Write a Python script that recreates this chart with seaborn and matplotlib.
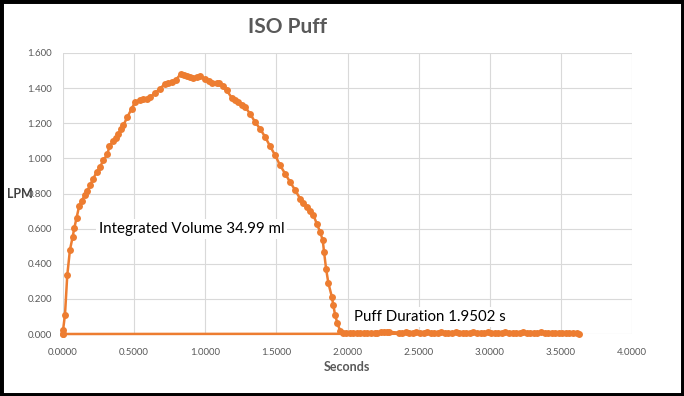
import pandas as pd
import matplotlib
matplotlib.use('Agg')
import matplotlib.pyplot as plt
import seaborn as sns
from matplotlib.patches import Rectangle

# 读出的数据 (秒, LPM)
rise_t = [0.000, 0.000, 0.014, 0.030, 0.049, 0.068, 0.080, 0.096, 0.113, 0.131,
          0.155, 0.171, 0.190, 0.213, 0.237, 0.260, 0.284, 0.312, 0.326, 0.354,
          0.372, 0.389, 0.406, 0.424, 0.452, 0.483, 0.506, 0.541, 0.565, 0.588,
          0.612, 0.647, 0.682, 0.717, 0.740, 0.764, 0.795, 0.828, 0.850, 0.870,
          0.895, 0.917, 0.940, 0.963, 0.999, 1.025, 1.046, 1.081, 1.100, 1.125,
          1.151, 1.186, 1.210, 1.233, 1.258, 1.280, 1.315, 1.350, 1.385, 1.421,
          1.456, 1.491, 1.526, 1.561, 1.596, 1.632, 1.667, 1.690, 1.714, 1.737,
          1.760, 1.784, 1.807, 1.826, 1.835, 1.850, 1.866, 1.890, 1.900, 1.913,
          1.929, 1.948, 1.970]
rise_lpm = [0.000, 0.020, 0.110, 0.335, 0.480, 0.553, 0.606, 0.663, 0.727, 0.760,
            0.790, 0.815, 0.847, 0.885, 0.923, 0.951, 0.990, 1.023, 1.069, 1.100,
            1.118, 1.140, 1.165, 1.188, 1.235, 1.283, 1.320, 1.334, 1.337, 1.340,
            1.349, 1.372, 1.397, 1.425, 1.430, 1.434, 1.448, 1.482, 1.474, 1.468,
            1.463, 1.459, 1.462, 1.467, 1.454, 1.440, 1.431, 1.429, 1.430, 1.410,
            1.387, 1.345, 1.332, 1.320, 1.306, 1.292, 1.255, 1.207, 1.169, 1.122,
            1.069, 1.018, 0.961, 0.913, 0.866, 0.819, 0.771, 0.748, 0.724, 0.700,
            0.677, 0.629, 0.582, 0.534, 0.468, 0.368, 0.288, 0.212, 0.165, 0.108,
            0.061, 0.019, 0.005]

tail_t = [1.990, 2.015, 2.040, 2.065, 2.090, 2.115, 2.140, 2.165, 2.190,
          2.210, 2.235, 2.255, 2.275, 2.295,
          2.360, 2.385, 2.410, 2.435, 2.460, 2.485, 2.510, 2.535, 2.560, 2.585,
          2.610, 2.635, 2.660, 2.685, 2.710, 2.735, 2.760, 2.785, 2.810, 2.835,
          2.860, 2.885, 2.910, 2.935, 2.960, 2.985, 3.010, 3.035, 3.060, 3.085,
          3.110, 3.135, 3.160, 3.185, 3.210, 3.235, 3.260, 3.285, 3.310, 3.335,
          3.360, 3.385, 3.410, 3.435, 3.460, 3.485,
          3.510, 3.535, 3.560, 3.585, 3.610, 3.625]
tail_lpm = [0.004, 0.005, 0.004, 0.005, 0.005, 0.004, 0.005, 0.005, 0.004,
            0.006, 0.012, 0.013, 0.012, 0.012,
            0.008, 0.008, 0.009, 0.008, 0.008, 0.009, 0.008, 0.008, 0.010, 0.008,
            0.008, 0.008, 0.009, 0.008, 0.008, 0.008, 0.009, 0.008, 0.008, 0.008,
            0.008, 0.009, 0.008, 0.008, 0.008, 0.009, 0.008, 0.008, 0.008, 0.008,
            0.009, 0.008, 0.008, 0.008, 0.008, 0.009, 0.008, 0.008, 0.008, 0.008,
            0.009, 0.008, 0.008, 0.008, 0.008, 0.008,
            0.004, 0.003, 0.003, 0.003, 0.003, 0.002]

# 最后一点回到原点 (Excel 里底部那条线)
end_t = [0.000]
end_lpm = [0.000]

x_ticks = [0.0, 0.5, 1.0, 1.5, 2.0, 2.5, 3.0, 3.5, 4.0]
y_ticks = [0.0, 0.2, 0.4, 0.6, 0.8, 1.0, 1.2, 1.4, 1.6]

title = 'ISO Puff'
note_volume = 'Integrated Volume 34.99 ml'
note_duration = 'Puff Duration 1.9502 s'

df = pd.DataFrame({
    'Seconds': rise_t + tail_t + end_t,
    'LPM': rise_lpm + tail_lpm + end_lpm,
})

sns.set_style('white')
plt.rcParams['font.family'] = ['Lato', 'DejaVu Sans']

orange = '#ED7D31'
grey = '#595959'

fig = plt.figure(figsize=(6.84, 3.96), dpi=100)
fig.patches.append(Rectangle((0, 0), 1, 1, transform=fig.transFigure,
                             fill=False, edgecolor='black', linewidth=5))
ax = fig.add_axes([63 / 684, 1 - 334 / 396, 569 / 684, 281 / 396])

sns.lineplot(data=df, x='Seconds', y='LPM', ax=ax, sort=False, estimator=None,
             color=orange, linewidth=1.8, marker='o', markersize=5,
             markeredgewidth=0, clip_on=False, zorder=3)

ax.set_xlim(0, 4)
ax.set_ylim(0, 1.6)
ax.set_xticks(x_ticks)
ax.set_yticks(y_ticks)
ax.set_xticklabels([f'{v:.4f}' for v in x_ticks])
ax.set_yticklabels([f'{v:.3f}' for v in y_ticks])
ax.tick_params(axis='both', length=0, labelsize=7, labelcolor=grey)
ax.tick_params(axis='x', pad=10)
ax.tick_params(axis='y', pad=8)
ax.grid(True, color='#D9D9D9', linewidth=0.8)
ax.set_axisbelow(True)
for s in ax.spines.values():
    s.set_visible(False)
ax.set_xlabel('')
ax.set_ylabel('')

box = dict(facecolor='white', edgecolor='none', pad=2)
ax.text(0.905, 0.597, note_volume, ha='center', va='center', fontsize=10.8,
        color='black', bbox=box, zorder=4)
ax.text(2.58, 0.097, note_duration, ha='center', va='center', fontsize=10.8,
        color='black', bbox=box, zorder=4)

fig.text(287 / 684, 1 - 27 / 396, title, ha='center', va='center',
         fontsize=15, fontweight='bold', color=grey)
fig.text(347 / 684, 1 - 367 / 396, 'Seconds', ha='center', va='center',
         fontsize=9, fontweight='bold', color=grey)
fig.text(20 / 684, 1 - 194 / 396, 'LPM', ha='center', va='center',
         fontsize=9, fontweight='bold', color='#404040')

fig.savefig('out.png', dpi=100)
